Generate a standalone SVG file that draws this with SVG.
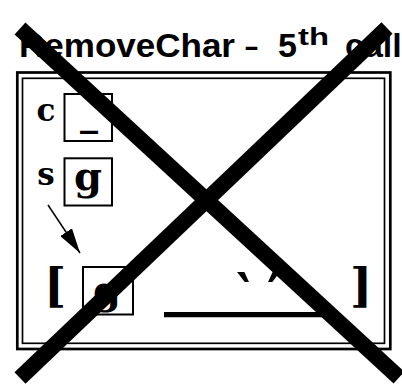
<svg xmlns="http://www.w3.org/2000/svg" width="402" height="384" viewBox="0 0 402 384">
<style>
.box{fill:none;stroke:#000;stroke-width:2}
.mono{font-family:"DejaVu Serif","Liberation Serif",serif;font-weight:bold;fill:#000}
.q{font-family:"DejaVu Sans","Liberation Sans",sans-serif;font-weight:bold;fill:#000}
.title{font-family:"Liberation Sans",Arial,sans-serif;font-weight:bold;font-size:34px;fill:#000}
.cross{stroke:#000;stroke-width:16;stroke-linecap:butt}
</style>
<defs>
<marker id="ah" markerUnits="userSpaceOnUse" viewBox="0 0 25 14" refX="25" refY="7" markerWidth="25" markerHeight="14" orient="auto">
<path d="M0,0 L25,7 L0,14 Z" fill="#000"/>
</marker>
</defs>
<rect width="402" height="384" fill="#fff"/>
<g id="title">
<text class="title" y="57"><tspan x="19" textLength="216" lengthAdjust="spacingAndGlyphs">RemoveChar</tspan><tspan x="245" textLength="13" lengthAdjust="spacingAndGlyphs">–</tspan><tspan x="278">5</tspan><tspan x="298" y="45" font-size="24" textLength="31" lengthAdjust="spacingAndGlyphs">th</tspan><tspan x="345" y="57">call</tspan></text>
</g>
<g id="frame">
<rect x="17.3" y="72.5" width="373" height="276.5" fill="none" stroke="#000" stroke-width="2.7"/>
<rect x="22.5" y="78.3" width="362" height="265" fill="none" stroke="#000" stroke-width="1.7"/>
</g>
<g id="var-c">
<text class="mono" x="46" y="121" font-size="31" text-anchor="middle">c</text>
<rect class="box" x="64.5" y="94" width="47.5" height="47"/>
<text class="mono" x="89" y="126" font-size="36" text-anchor="middle" font-weight="normal">_</text>
</g>
<g id="var-s">
<text class="mono" x="46" y="185" font-size="31" text-anchor="middle">s</text>
<rect class="box" x="64.5" y="158.3" width="47.5" height="47.2"/>
<text class="mono" x="88" y="190" font-size="40" text-anchor="middle">g</text>
</g>
<g id="list">
<text class="mono" x="55" y="302" font-size="47" text-anchor="middle">[</text>
<rect class="box" x="83" y="267" width="50" height="47.5"/>
<text class="mono" x="107" y="304" font-size="40" text-anchor="middle">g</text>
<text class="q" x="243" y="311" font-size="54" text-anchor="middle">‵</text>
<text class="q" x="274" y="311" font-size="54" text-anchor="middle">′</text>
<line x1="164" y1="314.7" x2="330" y2="314.7" stroke="#000" stroke-width="5.3"/>
<text class="mono" x="361" y="302" font-size="47" text-anchor="middle">]</text>
</g>
<g id="connectors">
<line x1="48" y1="205" x2="80" y2="253" stroke="#000" stroke-width="1.5" marker-end="url(#ah)"/>
</g>
<g id="cross">
<line class="cross" x1="20" y1="28.5" x2="399" y2="377.5"/>
<line class="cross" x1="387" y1="28" x2="20" y2="378"/>
</g>
</svg>
